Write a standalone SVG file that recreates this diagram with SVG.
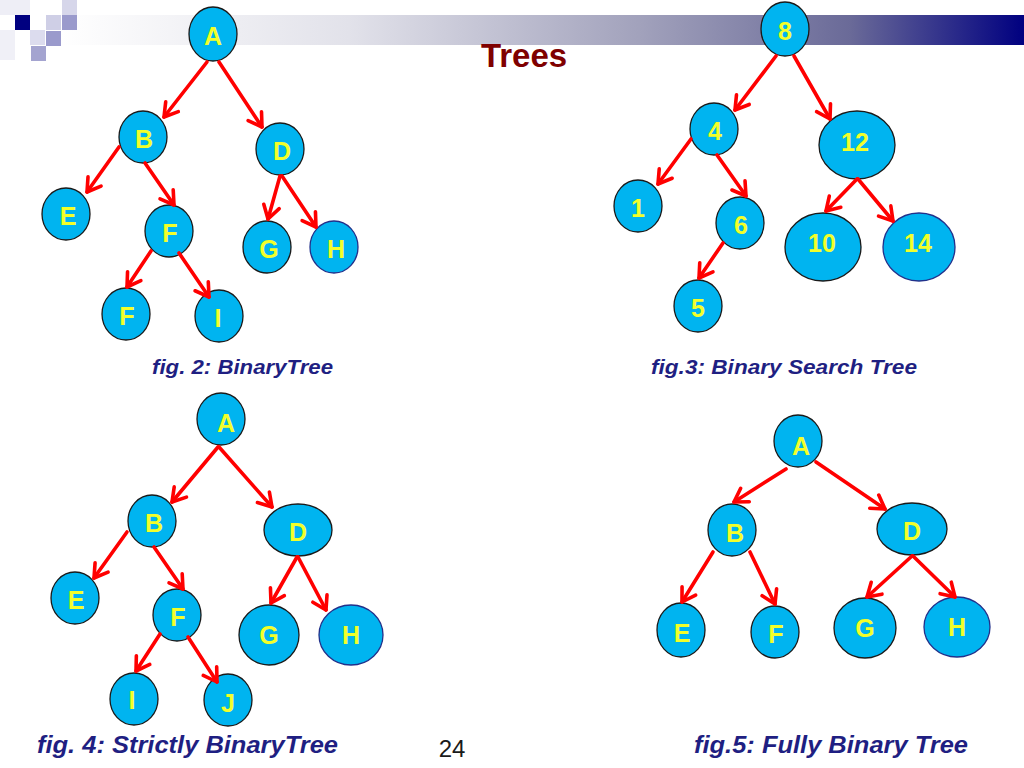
<svg xmlns="http://www.w3.org/2000/svg" width="1024" height="768" viewBox="0 0 1024 768">
<defs>
<linearGradient id="bar" x1="60" y1="0" x2="1024" y2="0" gradientUnits="userSpaceOnUse">
<stop offset="0" stop-color="#ffffff"/>
<stop offset="0.3" stop-color="#e2e2ea"/>
<stop offset="0.6" stop-color="#a2a2bc"/>
<stop offset="0.82" stop-color="#6a6a98"/>
<stop offset="1" stop-color="#000080"/>
</linearGradient>
<marker id="ah" markerUnits="userSpaceOnUse" viewBox="-18 -12 22 24" refX="0" refY="0" markerWidth="22" markerHeight="24" orient="auto" overflow="visible">
<polyline points="-13,-8 0,0 -13,8" fill="none" stroke="#ff0000" stroke-width="3.6" stroke-linecap="round" stroke-linejoin="round"/>
</marker>
</defs>
<style>
.n ellipse{fill:#00b4f0;stroke:#1a1a1a;stroke-width:1.3}
.n text{font-family:"Liberation Sans",Arial,sans-serif;font-weight:bold;font-size:25px;fill:#f2ff2a;text-anchor:middle}
.nb ellipse{stroke:#22308a}
.c line{stroke:#ff0000;stroke-width:3.6;stroke-linecap:round;marker-end:url(#ah)}
.cap{font-family:"Liberation Sans",Arial,sans-serif;font-weight:bold;font-style:italic;fill:#1f1f82}
</style>
<rect width="1024" height="768" fill="#ffffff"/>
<!-- header decoration -->
<rect x="60" y="15" width="964" height="30" fill="url(#bar)"/>
<g id="corner">
<rect x="0" y="0" width="30" height="15" fill="#eeeef6"/>
<rect x="0" y="30" width="15" height="30" fill="#f0f0f7"/>
<rect x="62" y="0" width="15" height="15" fill="#d6d6ea"/>
<rect x="15" y="15" width="15" height="15" fill="#000080"/>
<rect x="46" y="15" width="15" height="15" fill="#cfcfe6"/>
<rect x="62" y="15" width="15" height="15" fill="#9a9acc"/>
<rect x="30" y="30" width="15" height="15" fill="#dcdcee"/>
<rect x="46" y="31" width="15" height="15" fill="#9a9acc"/>
<rect x="31" y="46" width="15" height="15" fill="#a4a4d0"/>
</g>
<text x="524" y="67" font-family="Liberation Sans,Arial,sans-serif" font-weight="bold" font-size="33" fill="#7f0000" text-anchor="middle">Trees</text>

<!-- Fig 2 nodes -->
<g id="f2A" class="n"><ellipse cx="213" cy="34" rx="24" ry="27"/><text x="213" y="45">A</text></g>
<g id="f2B" class="n"><ellipse cx="143" cy="137" rx="24" ry="26"/><text x="144" y="148">B</text></g>
<g id="f2D" class="n"><ellipse cx="280" cy="149" rx="24" ry="26"/><text x="282" y="160">D</text></g>
<g id="f2E" class="n"><ellipse cx="66" cy="214" rx="24" ry="26"/><text x="68" y="225">E</text></g>
<g id="f2F" class="n"><ellipse cx="169" cy="231" rx="24" ry="26"/><text x="170" y="242">F</text></g>
<g id="f2G" class="n"><ellipse cx="267" cy="247" rx="24" ry="26"/><text x="269" y="258">G</text></g>
<g id="f2H" class="n nb"><ellipse cx="334" cy="247" rx="24" ry="26"/><text x="336" y="258">H</text></g>
<g id="f2F2" class="n"><ellipse cx="126" cy="314" rx="24" ry="26"/><text x="127" y="325">F</text></g>
<g id="f2I" class="n"><ellipse cx="219" cy="316" rx="24" ry="26"/><text x="218" y="327">I</text></g>

<!-- Fig 3 nodes -->
<g id="f3n8" class="n"><ellipse cx="785" cy="29" rx="24" ry="27"/><text x="785" y="40">8</text></g>
<g id="f3n4" class="n"><ellipse cx="714" cy="129" rx="24" ry="26"/><text x="715" y="140">4</text></g>
<g id="f3n12" class="n"><ellipse cx="857" cy="145" rx="38" ry="34"/><text x="855" y="151">12</text></g>
<g id="f3n1" class="n"><ellipse cx="638" cy="206" rx="24" ry="26"/><text x="638" y="217">1</text></g>
<g id="f3n6" class="n"><ellipse cx="740" cy="223" rx="24" ry="26"/><text x="741" y="234">6</text></g>
<g id="f3n10" class="n"><ellipse cx="823" cy="247" rx="38" ry="34"/><text x="822" y="252">10</text></g>
<g id="f3n14" class="n nb"><ellipse cx="919" cy="247" rx="36" ry="34"/><text x="918" y="252">14</text></g>
<g id="f3n5" class="n"><ellipse cx="698" cy="306" rx="24" ry="26"/><text x="698" y="317">5</text></g>

<!-- Fig 4 nodes -->
<g id="f4A" class="n"><ellipse cx="221" cy="419" rx="24" ry="26"/><text x="226" y="432">A</text></g>
<g id="f4B" class="n"><ellipse cx="152" cy="521" rx="24" ry="26"/><text x="154" y="532">B</text></g>
<g id="f4D" class="n"><ellipse cx="298" cy="530" rx="34" ry="26"/><text x="298" y="541">D</text></g>
<g id="f4E" class="n"><ellipse cx="75" cy="598" rx="24" ry="26"/><text x="76" y="609">E</text></g>
<g id="f4F" class="n"><ellipse cx="177" cy="615" rx="24" ry="26"/><text x="178" y="626">F</text></g>
<g id="f4G" class="n"><ellipse cx="269" cy="635" rx="30" ry="30"/><text x="269" y="644">G</text></g>
<g id="f4H" class="n nb"><ellipse cx="351" cy="635" rx="32" ry="30"/><text x="351" y="644">H</text></g>
<g id="f4I" class="n"><ellipse cx="134" cy="699" rx="24" ry="26"/><text x="132" y="709">I</text></g>
<g id="f4J" class="n"><ellipse cx="228" cy="700" rx="24" ry="26"/><text x="228" y="712">J</text></g>

<!-- Fig 5 nodes -->
<g id="f5A" class="n"><ellipse cx="798" cy="441" rx="24" ry="26"/><text x="801" y="455">A</text></g>
<g id="f5B" class="n"><ellipse cx="732" cy="530" rx="24" ry="26"/><text x="735" y="542">B</text></g>
<g id="f5D" class="n"><ellipse cx="912" cy="529" rx="35" ry="26"/><text x="912" y="540">D</text></g>
<g id="f5E" class="n"><ellipse cx="681" cy="630" rx="24" ry="27"/><text x="682" y="642">E</text></g>
<g id="f5F" class="n"><ellipse cx="775" cy="632" rx="24" ry="26"/><text x="776" y="643">F</text></g>
<g id="f5G" class="n"><ellipse cx="865" cy="628" rx="31" ry="30"/><text x="865" y="637">G</text></g>
<g id="f5H" class="n nb"><ellipse cx="957" cy="627" rx="33" ry="30"/><text x="957" y="636">H</text></g>

<!-- connectors -->
<g id="connectors" class="c">
<line x1="207" y1="62" x2="164" y2="117"/>
<line x1="219" y1="62" x2="262" y2="127"/>
<line x1="119" y1="147" x2="87" y2="192"/>
<line x1="145" y1="163" x2="174" y2="205"/>
<line x1="280" y1="176" x2="268" y2="219"/>
<line x1="282" y1="176" x2="316" y2="227"/>
<line x1="151" y1="251" x2="127" y2="287"/>
<line x1="179" y1="253" x2="209" y2="297"/>

<line x1="776" y1="56" x2="735" y2="110"/>
<line x1="794" y1="56" x2="830" y2="119"/>
<line x1="691" y1="139" x2="658" y2="184"/>
<line x1="717" y1="155" x2="746" y2="196"/>
<line x1="857" y1="179" x2="826" y2="211"/>
<line x1="858" y1="179" x2="893" y2="221"/>
<line x1="723" y1="243" x2="699" y2="278"/>

<line x1="218" y1="447" x2="172" y2="502"/>
<line x1="219" y1="447" x2="272" y2="507"/>
<line x1="127" y1="532" x2="94" y2="578"/>
<line x1="154" y1="547" x2="183" y2="589"/>
<line x1="297" y1="557" x2="271" y2="603"/>
<line x1="298" y1="557" x2="326" y2="610"/>
<line x1="160" y1="634" x2="136" y2="671"/>
<line x1="188" y1="637" x2="217" y2="682"/>

<line x1="786" y1="469" x2="734" y2="502"/>
<line x1="816" y1="462" x2="885" y2="509"/>
<line x1="713" y1="552" x2="682" y2="602"/>
<line x1="750" y1="552" x2="775" y2="604"/>
<line x1="912" y1="556" x2="867" y2="597"/>
<line x1="913" y1="556" x2="955" y2="597"/>
</g>

<!-- captions -->
<text class="cap" x="152" y="374" font-size="20" textLength="181" lengthAdjust="spacingAndGlyphs">fig. 2: BinaryTree</text>
<text class="cap" x="651" y="374" font-size="20" textLength="266" lengthAdjust="spacingAndGlyphs">fig.3: Binary Search Tree</text>
<text class="cap" x="37" y="753" font-size="23" textLength="301" lengthAdjust="spacingAndGlyphs">fig. 4: Strictly BinaryTree</text>
<text class="cap" x="694" y="753" font-size="23" textLength="274" lengthAdjust="spacingAndGlyphs">fig.5: Fully Binary Tree</text>
<text x="452" y="757" font-family="Liberation Sans,Arial,sans-serif" font-size="24" fill="#1a1a1a" text-anchor="middle">24</text>
</svg>
